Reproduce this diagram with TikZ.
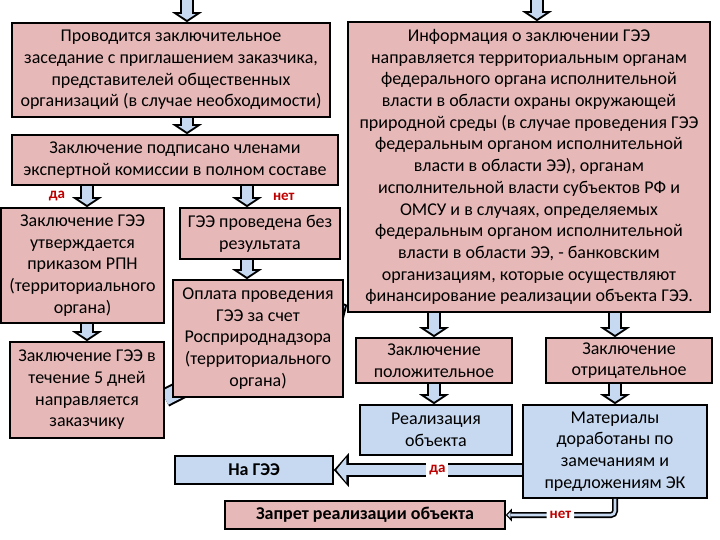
\documentclass[tikz,border=0pt]{standalone}
\usepackage{fontspec}
\setmainfont{Carlito}
\usetikzlibrary{arrows.meta,backgrounds}

\definecolor{boxpink}{HTML}{E6B9B8}
\definecolor{boxblue}{HTML}{C6D9F1}
\definecolor{answerred}{HTML}{C00000}

\tikzset{
  box/.style={draw, line width=1.6pt, fill=boxpink, align=center, inner sep=2pt,
    font=\fontsize{18}{21.7}\selectfont},
  bluebox/.style={box, fill=boxblue},
  answer/.style={text=answerred, font=\bfseries\fontsize{15}{17}\selectfont, inner sep=1pt},
  blockarrow/.style={draw=boxblue, line width=10pt, shorten >=2.4pt,
    -{Triangle[length=5.6pt,width=17pt,line width=0pt]},
    preaction={draw=black, line width=14pt, shorten >=0pt,
      -{Triangle[length=10pt,width=30pt,line width=0pt]}}},
  widearrow/.style={draw=boxblue, line width=10pt, shorten >=2.6pt,
    -{Triangle[length=10pt,width=25pt,line width=0pt]},
    preaction={draw=black, line width=14pt, shorten >=0pt,
      -{Triangle[length=15pt,width=34pt,line width=0pt]}}},
  bigarrow/.style={draw=boxblue, line width=15pt, shorten >=2.6pt,
    -{Triangle[length=13.4pt,width=31pt,line width=0pt]},
    preaction={draw=black, line width=19pt, shorten >=0pt,
      -{Triangle[length=18pt,width=42pt,line width=0pt]}}},
  thinarrow/.style={draw=boxblue, line width=2.6pt, shorten >=1.5pt, rounded corners=4pt,
    -{Triangle[length=3pt,width=6pt,line width=0pt]},
    preaction={draw=black, line width=6pt, shorten >=0pt,
      -{Triangle[length=6pt,width=13pt,line width=0pt]}}}
}

\begin{document}
\begin{tikzpicture}[x=1pt,y=-1pt]
\useasboundingbox (0,0) rectangle (720,540);

\coordinate (in1) at (187,0);
\coordinate (in2) at (537,0);
\coordinate (fork) at (247,0);

% left part
\node[box, minimum width=318pt, minimum height=94pt] (meet) at (171,70)
  {Проводится заключительное\\заседание с приглашением заказчика,\\представителей общественных\\организаций (в случае необходимости)};
\node[box, minimum width=326pt, minimum height=50pt] (signed) at (175,160)
  {Заключение подписано членами\\экспертной комиссии в полном составе};
\node[box, minimum width=163pt, minimum height=115pt] (approved) at (82.5,265.5)
  {Заключение ГЭЭ\\утверждается\\приказом РПН\\(территориального\\органа)};
\node[box, minimum width=160pt, minimum height=51pt] (noresult) at (260,233.5)
  {ГЭЭ проведена без\\результата};
\node[box, minimum width=170pt, minimum height=117pt] (pay) at (258,338.5)
  {Оплата проведения\\ГЭЭ за счет\\Росприроднадзора\\(территориального\\органа)};
\node[box, minimum width=154pt, minimum height=96pt] (sent) at (87,390)
  {Заключение ГЭЭ в\\течение 5 дней\\направляется\\заказчику};

% right part
\node[box, minimum width=362pt, minimum height=290pt] (info) at (529,167)
  {Информация о заключении ГЭЭ\\направляется территориальным органам\\федерального органа исполнительной\\власти в области охраны окружающей\\природной среды (в случае проведения ГЭЭ\\федеральным органом исполнительной\\власти в области ЭЭ), органам\\исполнительной власти субъектов РФ и\\ОМСУ и в случаях, определяемых\\федеральным органом исполнительной\\власти в области ЭЭ, - банковским\\организациям, которые осуществляют\\финансирование реализации объекта ГЭЭ.};
\node[box, minimum width=156pt, minimum height=45pt] (positive) at (434,360.5)
  {Заключение\\положительное};
\node[box, minimum width=166pt, minimum height=45pt] (negative) at (629,360.5)
  {Заключение\\отрицательное};
\node[bluebox, minimum width=152pt, minimum height=50pt] (realize) at (436,430)
  {Реализация\\объекта};
\node[bluebox, minimum width=184pt, minimum height=93pt] (revised) at (615,451.5)
  {Материалы\\доработаны по\\замечаниям и\\предложениям ЭК};
\node[bluebox, minimum width=158pt, minimum height=28pt] (again) at (254,470)
  {\bfseries На ГЭЭ};
\node[box, minimum width=280pt, minimum height=28pt] (ban) at (365,515)
  {\bfseries Запрет реализации объекта};

% arrows
\draw[blockarrow] (in1) -- (in1 |- meet.north);
\draw[blockarrow] (meet.south -| in1) -- (signed.north -| in1);
\draw[blockarrow] (signed.south -| sent.north) -- node[answer, left=16pt]{да} (approved.north -| sent.north);
\draw[blockarrow] (signed.south -| fork) -- node[answer, right=20pt]{нет} (noresult.north -| fork);
\draw[blockarrow] (noresult.south -| fork) -- (pay.north -| fork);
\draw[blockarrow] (approved.south -| sent.north) -- (sent.north);

\draw[blockarrow] (in2) -- (in2 |- info.north);
\draw[blockarrow] (info.south -| positive.north) -- (positive.north);
\draw[blockarrow] (info.south -| revised.north) -- (negative.north -| revised.north);
\draw[blockarrow] (positive.south) -- (positive.south |- realize.north);
\draw[blockarrow] (negative.south -| revised.north) -- (revised.north);
\draw[widearrow] (again.east -| revised.west) -- node[answer, fill=white, inner sep=3pt, pos=0.45]{да} (again.east);
\draw[thinarrow] (revised.south) |- node[answer, fill=white, inner sep=3pt, pos=0.75]{нет} (ban.east);

\begin{pgfonlayer}{background}
\draw[bigarrow] ([yshift=-8pt]sent.east) -- ([yshift=8pt]info.south west);
\end{pgfonlayer}
\end{tikzpicture}
\end{document}
